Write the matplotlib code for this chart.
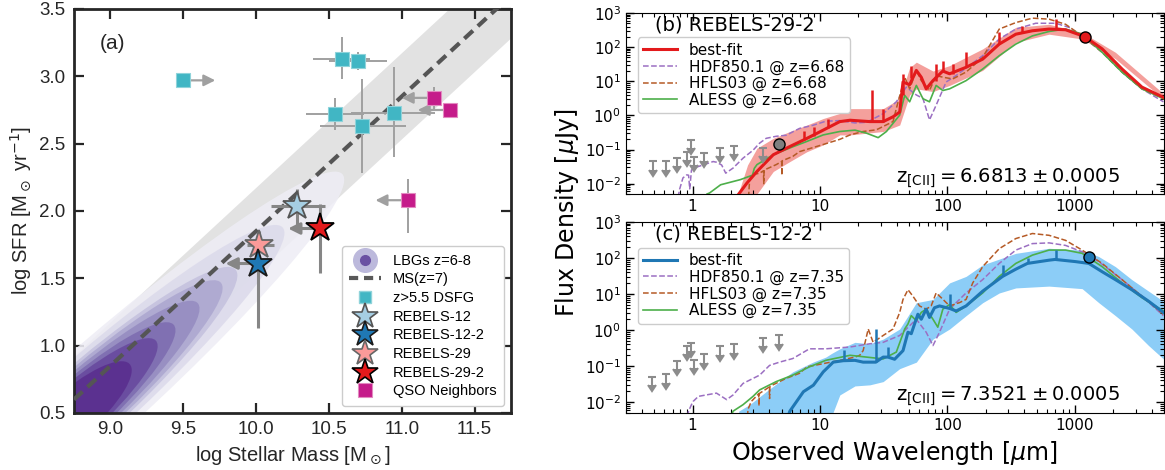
import numpy as np
import matplotlib.pyplot as plt
import matplotlib.ticker as ticker
from matplotlib.patches import Ellipse
from matplotlib.lines import Line2D

plt.rcParams['font.family'] = ['DejaVu Sans']
plt.rcParams['mathtext.fontset'] = 'dejavusans'

# ----------------- (a) SFR vs stellar mass data -----------------
ms_mass = [8.75, 11.75]
ms_sfr = [0.60, 3.60]
ms_scatter = 0.32

# LBG density contours (nested ellipses along the main sequence)
lbg_center = [8.72, 0.47]
lbg_angle = 44.0
lbg_semi_major = [2.60, 2.03, 1.58, 1.44, 1.22, 0.99, 0.82, 0.57]
lbg_semi_minor = [0.34, 0.30, 0.27, 0.25, 0.23, 0.21, 0.19, 0.17]
lbg_colors = ['#eeedf5', '#dcdaeb', '#c4c1de', '#aca7d0', '#958cc1', '#7d6cb0', '#68499e', '#5a2e8e']

dsfg_mass = [9.50, 10.59, 10.70, 10.54, 10.73, 10.95]
dsfg_sfr = [2.97, 3.13, 3.11, 2.72, 2.63, 2.73]
dsfg_mass_lo = [0.0, 0.20, 0.20, 0.20, 0.29, 0.30]
dsfg_mass_hi = [0.0, 0.19, 0.20, 0.20, 0.30, 0.28]
dsfg_sfr_lo = [0.0, 0.15, 0.06, 0.12, 0.35, 0.33]
dsfg_sfr_hi = [0.0, 0.16, 0.07, 0.12, 0.35, 0.34]
dsfg_mass_lowlim = [True, False, False, False, False, False]

qso_mass = [11.22, 11.33, 11.04]
qso_sfr = [2.84, 2.75, 2.08]
qso_sfr_lo = [0.09, 0.06, 0.24]
qso_sfr_hi = [0.08, 0.0, 0.16]

star_names = ['REBELS-12', 'REBELS-29', 'REBELS-12-2', 'REBELS-29-2']
star_mass = [10.28, 10.02, 10.01, 10.44]
star_sfr = [2.04, 1.75, 1.61, 1.87]
star_mass_lo = [0.18, 0.08, 0.0, 0.0]
star_mass_hi = [0.19, 0.10, 0.0, 0.0]
star_sfr_lo = [0.18, 0.0, 0.48, 0.33]
star_sfr_hi = [0.12, 0.10, 0.15, 0.18]
star_mass_uplim = [False, False, True, True]
star_face = {'REBELS-12': '#a6cee3', 'REBELS-12-2': '#1f78b4',
             'REBELS-29': '#fb9a99', 'REBELS-29-2': '#e31a1c'}
star_edge = {'REBELS-12': '#555555', 'REBELS-12-2': '#1a1a1a',
             'REBELS-29': '#666666', 'REBELS-29-2': '#000000'}

# ----------------- (b) REBELS-29-2 SED data (log10 flux in uJy) -----------------
b_fit_lam = [2.2, 2.67, 3.2, 4.3, 5.8, 7.9, 10.6, 14.3, 17.2, 24.6, 31.3, 37.4, 42.2, 44.8, 50.5, 57,
             62.3, 68.1, 77, 92, 104, 140, 189, 255, 344, 464, 627, 845, 1190, 1636, 2343, 3357, 4950]
b_fit_logf = [-2.4, -1.98, -1.64, -1.15, -0.91, -0.67, -0.43, -0.18, -0.14, -0.18, -0.18, -0.04, 0.1, 0.98,
              0.9, 1.32, 1.12, 0.78, 1.02, 1.30, 1.22, 1.41, 1.65, 2.09, 2.38, 2.48, 2.53, 2.51, 2.31,
              1.95, 1.36, 0.83, 0.53]
b_line_lam = [7.5, 9.0, 11.5, 25.4, 31.0, 44.8, 52, 81.5, 92, 110, 140, 255, 388, 707]
b_line_base = [-0.72, -0.6, -0.38, -0.18, -0.18, 0.6, 1.1, 1.0, 1.3, 1.22, 1.41, 2.09, 2.45, 2.53]
b_line_top = [-0.45, -0.35, -0.1, 0.74, 0.2, 1.2, 1.45, 1.5, 1.6, 1.5, 1.85, 2.43, 2.62, 2.82]
b_band_lam = [2.3, 2.7, 3.2, 4.3, 5.8, 7.9, 10.6, 14.3, 17.2, 31.3, 42.2, 50.5, 57, 77, 104, 189, 344,
              627, 1140, 2080, 4950]
b_band_lo = [-2.6, -2.6, -2.3, -1.64, -1.35, -1.06, -0.86, -0.57, -0.57, -0.47, -0.28, 0.6, 0.78, 0.7,
             0.88, 1.32, 2.14, 2.38, 2.24, 1.66, 0.48]
b_band_hi = [-2.25, -1.45, -0.96, -0.67, -0.47, -0.28, -0.09, 0.06, 0.2, 0.2, 0.49, 1.4, 1.56, 1.3,
             1.46, 1.95, 2.58, 2.67, 2.43, 1.85, 0.64]
b_hdf_lam = [0.77, 0.79, 0.84, 0.90, 0.93, 0.95, 0.98, 1.02, 1.21, 1.45, 1.54, 1.69, 1.82, 2.08, 2.49,
             2.98, 3.36, 3.78, 4.53, 5.42, 6.9, 8.77, 11.1, 14.3, 18.8, 23.2, 31.3, 39.7, 47.5, 57,
             64.2, 72.3, 81.5, 97.7, 117, 189, 255, 344, 493, 707, 898, 1140, 1636, 2343, 3357, 4950]
b_hdf_logf = [-2.4, -2.17, -1.83, -1.74, -1.75, -2.15, -1.6, -1.54, -1.45, -1.35, -1.37, -1.45, -1.69,
              -1.54, -1.25, -1.02, -0.81, -0.67, -0.61, -0.58, -0.38, -0.29, -0.17, -0.15, -0.22, -0.2,
              0.05, 0.4, 0.83, 0.6, 0.5, -0.13, 0.3, 0.98, 1.17, 1.75, 2.24, 2.53, 2.70, 2.70, 2.58,
              2.33, 1.85, 1.27, 0.78, 0.40]
b_hfls_lam = [2.75, 2.8, 2.9, 3.36, 3.6, 3.62, 3.64, 4.53, 5.0, 5.02, 5.04, 6.11, 6.9, 10.6, 14.3, 17.2,
              21.8, 27.7, 37.4, 39.7, 46.2, 50.5, 57, 62.3, 72.3, 81.5, 92, 110, 140, 189, 255, 344,
              464, 627, 845, 1140, 1636, 2343, 3357, 4950]
b_hfls_logf = [-2.4, -1.9, -1.74, -1.69, -1.62, -2.0, -1.6, -1.44, -1.35, -1.75, -1.33, -1.2, -1.06,
               -0.85, -0.7, -0.57, -0.47, -0.42, -0.18, 0.2, 1.12, 0.78, 1.32, 1.02, 0.73, 1.17, 1.12,
               1.07, 1.27, 1.70, 2.53, 2.72, 2.85, 2.82, 2.67, 2.33, 1.85, 1.27, 0.78, 0.49]
b_aless_lam = [1.30, 1.36, 1.66, 2.37, 2.95, 3.05, 3.2, 4.3, 6.19, 7.9, 10.6, 14.3, 18.8, 23.2, 28.6,
               33.2, 42.2, 46.2, 50.5, 57, 64.2, 72.3, 81.5, 92, 104, 140, 189, 255, 344, 464, 627,
               845, 1140, 1636, 2343, 3357, 4950]
b_aless_logf = [-2.3, -2.27, -2.03, -1.88, -1.75, -1.55, -1.44, -1.15, -0.91, -0.76, -0.57, -0.47,
                -0.43, -0.52, -0.65, -0.47, 0.01, 0.59, 0.4, 0.88, 0.49, 0.4, 0.88, 0.73, 0.78, 1.02,
                1.36, 1.75, 2.09, 2.33, 2.46, 2.53, 2.38, 1.85, 1.27, 0.78, 0.49]
b_lim_lam = [0.49, 0.62, 0.76, 0.90, 0.98, 1.02, 1.24, 1.65, 2.13, 3.59]
b_lim_flux = [0.045, 0.045, 0.056, 0.086, 0.195, 0.060, 0.078, 0.11, 0.127, 0.11]
b_opt_lam, b_opt_flux = [4.79], [0.144]
b_mm_lam, b_mm_flux = [1200], [205]
b_z_text = r'$\mathrm{z_{[CII]} = 6.6813 \pm 0.0005}$'

# ----------------- (c) REBELS-12-2 SED data (log10 flux in uJy) -----------------
c_fit_lam = [5.6, 5.8, 7.41, 8.87, 10.6, 12.7, 15.2, 18.8, 21.8, 27.4, 31.3, 34.2, 38.5, 44.8, 49, 52,
             58.6, 62.3, 68.1, 72.3, 79.1, 86.6, 104, 117, 140, 189, 271, 344, 424, 627, 700, 1012,
             1286, 1636, 2080, 2800, 3790, 4950]
c_fit_logf = [-2.4, -2.25, -1.71, -1.53, -1.16, -0.89, -0.85, -0.84, -0.89, -0.89, -0.75, -0.75, -0.81,
              -0.57, -0.06, -0.1, 0.44, 0.3, 0.58, 0.35, 0.62, 0.67, 0.6, 0.53, 0.67, 1.08, 1.49, 1.69,
              1.85, 1.94, 1.96, 1.90, 1.85, 1.62, 1.40, 1.12, 0.80, 0.49]
c_line_lam = [15.3, 27.5, 34.3, 104.5, 275, 430, 707]
c_line_base = [-0.85, -0.89, -0.75, 0.6, 1.5, 1.86, 1.96]
c_line_top = [-0.55, 0.03, -0.48, 0.99, 1.81, 1.99, 2.22]
c_band_lam = [2.3, 2.8, 4.0, 6.1, 8.8, 11.1, 12.3, 14.3, 18.8, 24.6, 31.3, 42.2, 57, 77, 104, 140, 189,
              255, 344, 627, 1140, 1540, 2080, 2800, 3790, 4950]
c_band_lo = [-2.6, -2.6, -2.6, -2.6, -2.6, -2.6, -2.4, -1.8, -1.55, -1.52, -1.43, -1.07, -0.89, -0.25,
             0.03, 0.40, 0.76, 1.03, 1.17, 1.22, 1.15, 0.76, 0.40, 0.03, -0.43, -0.80]
c_band_hi = [-2.25, -2.07, -1.64, -1.16, -0.89, -0.75, -0.65, -0.52, -0.34, -0.38, -0.25, 0.03, 0.76,
             0.85, 1.31, 1.49, 1.81, 1.97, 2.13, 2.27, 2.22, 2.04, 1.76, 1.40, 1.08, 0.80]
c_hdf_lam = [0.91, 0.93, 0.98, 1.01, 1.11, 1.28, 1.54, 1.85, 2.08, 2.49, 3.36, 4.02, 4.81, 6.11, 8.26,
             11.1, 17.2, 24.6, 31.3, 42.2, 57, 68.1, 77, 86.6, 104, 140, 189, 255, 344, 464, 627, 845,
             1140, 1540, 2343, 3357, 4950]
c_hdf_logf = [-2.4, -2.25, -2.07, -1.98, -1.84, -1.80, -1.75, -1.93, -1.80, -1.48, -1.25, -0.98, -0.89,
              -0.79, -0.52, -0.52, -0.47, -0.38, -0.34, -0.15, 0.30, -0.06, -0.43, -0.06, 0.58, 1.03,
              1.40, 1.85, 2.22, 2.40, 2.42, 2.35, 2.17, 1.90, 1.40, 0.94, 0.40]
c_hfls_lam = [2.7, 2.72, 2.89, 3.3, 3.32, 3.34, 4.0, 4.02, 4.04, 4.27, 5.42, 6.9, 7.9, 14.3, 18.8, 20.5,
              21.8, 23.9, 26.1, 31.3, 37.4, 42.2, 44.8, 49, 53.6, 60.4, 68.1, 74.5, 81.5, 89.3, 104,
              124, 140, 158, 189, 255, 344, 464, 627, 845, 1140, 1636, 2343, 3357, 4950]
c_hfls_logf = [-2.4, -2.2, -1.98, -1.77, -2.1, -1.76, -1.58, -1.9, -1.57, -1.52, -1.34, -1.20, -1.02,
               -0.84, -0.75, -0.70, -0.57, 0.03, -0.34, -0.15, 0.03, 0.49, 0.85, 1.12, 0.94, 0.67,
               0.58, 0.67, 1.03, 0.90, 0.67, 0.76, 0.85, 1.31, 1.76, 2.26, 2.54, 2.68, 2.63, 2.49,
               2.22, 1.85, 1.40, 0.94, 0.44]
c_aless_lam = [2.0, 2.08, 2.49, 2.98, 3.36, 4.53, 6.11, 8.26, 11.1, 17.2, 23.2, 31.3, 39.7, 46.2, 49,
               52, 57, 62.3, 68.1, 77, 84, 92, 104, 117, 140, 189, 255, 344, 464, 627, 845, 1140,
               1636, 2343, 3357, 4950]
c_aless_logf = [-2.4, -2.25, -2.07, -1.84, -1.66, -1.43, -1.25, -1.02, -0.84, -0.70, -0.75, -0.80,
                -0.61, 0.03, 0.17, 0.40, 0.26, 0.49, 0.58, 0.30, 0.08, 0.58, 0.71, 0.49, 0.67, 1.03,
                1.49, 1.85, 2.08, 2.22, 2.22, 2.13, 1.76, 1.31, 0.90, 0.53]
c_lim_lam = [0.48, 0.62, 0.76, 0.90, 0.98, 1.02, 1.24, 1.65, 2.13, 3.59, 4.79]
c_lim_flux = [0.051, 0.059, 0.14, 0.37, 0.45, 0.15, 0.21, 0.36, 0.41, 0.62, 0.72]
c_mm_lam, c_mm_flux = [1290], [110]
c_z_text = r'$\mathrm{z_{[CII]} = 7.3521 \pm 0.0005}$'

# ----------------- Figure -----------------
fig = plt.figure(figsize=(11.65, 4.7), dpi=100)
ax_a = fig.add_axes([0.0635, 0.1213, 0.3751, 0.8596])
ax_b = fig.add_axes([0.5373, 0.5872, 0.4618, 0.3851])
ax_c = fig.add_axes([0.5373, 0.1213, 0.4618, 0.4064])

ARIAL = 'Liberation Sans'
ERR_GRAY = '#a0a0a0'
LIM_GRAY = '#8c8c8c'
ARROW_LEN = 0.22


def mass_arrow(ax, x, y, direction, color, lw, z):
    ax.annotate('', xy=(x + direction * ARROW_LEN, y), xytext=(x, y),
                arrowprops=dict(arrowstyle='-|>', color=color, lw=lw, mutation_scale=17,
                                shrinkA=0, shrinkB=0), zorder=z)


# --- panel (a) ---
ms_x = np.array(ms_mass)
ms_y = np.array(ms_sfr)
ax_a.fill_between(ms_x, ms_y - ms_scatter, ms_y + ms_scatter, color='#e2e2e2', lw=0, zorder=1)
for a, b, col in zip(lbg_semi_major, lbg_semi_minor, lbg_colors):
    ax_a.add_patch(Ellipse(lbg_center, 2 * a, 2 * b, angle=lbg_angle, facecolor=col,
                           edgecolor='none', alpha=0.88, zorder=2))
ax_a.plot(ms_x, ms_y, color='#555555', lw=3, dashes=(2.8, 1.6), zorder=3)

# DSFGs
ax_a.errorbar(dsfg_mass, dsfg_sfr, xerr=[dsfg_mass_lo, dsfg_mass_hi], yerr=[dsfg_sfr_lo, dsfg_sfr_hi],
              fmt='none', ecolor=ERR_GRAY, elinewidth=1.4, zorder=4)
for m, s, lim in zip(dsfg_mass, dsfg_sfr, dsfg_mass_lowlim):
    if lim:
        mass_arrow(ax_a, m, s, +1, ERR_GRAY, 1.6, 4)
ax_a.plot(dsfg_mass, dsfg_sfr, 's', ms=10, color='#41b6c4', mec='#8fd3da', mew=0.8, zorder=5)

# QSO neighbours
qso_eb = ax_a.errorbar(qso_mass, qso_sfr, yerr=[qso_sfr_lo, qso_sfr_hi], fmt='s', ms=10,
                       color='#c51b8a', mec='#e28ac0', mew=0.8, ecolor=ERR_GRAY, elinewidth=1.4,
                       zorder=5)
for m, s in zip(qso_mass, qso_sfr):
    mass_arrow(ax_a, m, s, -1, ERR_GRAY, 1.6, 4)

# REBELS stars
for i, name in enumerate(star_names):
    ax_a.errorbar([star_mass[i]], [star_sfr[i]],
                  xerr=[[star_mass_lo[i]], [star_mass_hi[i]]],
                  yerr=[[star_sfr_lo[i]], [star_sfr_hi[i]]],
                  fmt='none', ecolor='#868686', elinewidth=2.2, zorder=4)
    if star_mass_uplim[i]:
        mass_arrow(ax_a, star_mass[i], star_sfr[i], -1, '#868686', 2.2, 4)
for i, name in enumerate(star_names):
    ax_a.plot(star_mass[i], star_sfr[i], '*', ms=21, mfc=star_face[name], mec=star_edge[name],
              mew=1.3, zorder=6 + i)

ax_a.set_xlim(8.75, 11.75)
ax_a.set_ylim(0.5, 3.5)
ax_a.set_xticks([9.0, 9.5, 10.0, 10.5, 11.0, 11.5])
ax_a.set_yticks([0.5, 1.0, 1.5, 2.0, 2.5, 3.0, 3.5])
ax_a.xaxis.set_major_formatter(ticker.FormatStrFormatter('%.1f'))
ax_a.yaxis.set_major_formatter(ticker.FormatStrFormatter('%.1f'))
ax_a.tick_params(direction='in', top=True, right=True, length=7, width=1.6, labelsize=13.5,
                 labelfontfamily=ARIAL, pad=6, colors='#262626')
for sp in ax_a.spines.values():
    sp.set_linewidth(2)
    sp.set_color('#262626')
ax_a.set_xlabel(r'log Stellar Mass [M$_\odot$]', fontsize=14.5, family=ARIAL, color='#262626')
ax_a.set_ylabel(r'log SFR [M$_\odot$ yr$^{-1}$]', fontsize=14.5, family=ARIAL, color='#262626')
ax_a.text(0.06, 0.915, '(a)', transform=ax_a.transAxes, fontsize=15, family=ARIAL,
          ha='left', va='center', color='#262626')

lbg_handle = (Line2D([], [], marker='o', ms=17, ls='none', color='#bcb9dc'),
              Line2D([], [], marker='o', ms=7, ls='none', color='#6a51a3'))
handles_a = [lbg_handle,
             Line2D([], [], color='#595959', lw=3, dashes=(2.2, 1.4)),
             Line2D([], [], marker='s', ms=9, ls='none', color='#41b6c4', mec='#8fd3da')]
labels_a = ['LBGs z=6-8', 'MS(z=7)', 'z>5.5 DSFG']
for name in ['REBELS-12', 'REBELS-12-2', 'REBELS-29', 'REBELS-29-2']:
    handles_a.append(Line2D([], [], marker='*', ms=19, ls='none', mfc=star_face[name],
                            mec=star_edge[name], mew=1.2))
    labels_a.append(name)
handles_a.append(qso_eb)
labels_a.append('QSO Neighbors')
ax_a.legend(handles_a, labels_a, loc='lower right', prop={'family': ARIAL, 'size': 10.5},
            labelspacing=0.32, handlelength=2.2, borderpad=0.5, borderaxespad=0.5,
            frameon=True, edgecolor='#cccccc', fancybox=True, framealpha=1)


# --- panels (b) and (c) ---
def sed_panel(ax, title, fit_col, band_col, fit_lam, fit_logf, line_lam, line_base, line_top,
              band_lam, band_lo, band_hi, hdf, hfls, aless, zlab, lim_lam, lim_flux):
    ax.fill_between(band_lam, 10 ** np.array(band_lo), 10 ** np.array(band_hi), color=band_col,
                    lw=0, zorder=1)
    h_hdf, = ax.plot(hdf[0], 10 ** np.array(hdf[1]), '--', color='#9b6fc2', lw=1.1, zorder=2)
    h_hfls, = ax.plot(hfls[0], 10 ** np.array(hfls[1]), '--', color='#b55a26', lw=1.1, zorder=2)
    h_aless, = ax.plot(aless[0], 10 ** np.array(aless[1]), '-', color='#4daf4a', lw=1.2, zorder=2)
    h_fit, = ax.plot(fit_lam, 10 ** np.array(fit_logf), '-', color=fit_col, lw=2.2, zorder=3)
    ax.vlines(line_lam, 10 ** np.array(line_base), 10 ** np.array(line_top), color=fit_col,
              lw=1.8, zorder=3)
    ax.errorbar(lim_lam, lim_flux, yerr=0.42 * np.array(lim_flux), uplims=True, fmt='none',
                color=LIM_GRAY, ecolor=LIM_GRAY, elinewidth=1.5, capsize=3, capthick=1.5,
                zorder=4)
    ax.set_xscale('log')
    ax.set_yscale('log')
    ax.set_xlim(0.3, 5000)
    ax.set_ylim(5e-3, 1e3)
    ax.xaxis.set_major_formatter(ticker.FuncFormatter(lambda v, p: f'{v:g}'))
    ax.yaxis.set_major_locator(ticker.LogLocator(base=10, numticks=12))
    ax.yaxis.set_minor_locator(ticker.LogLocator(base=10, subs=np.arange(2, 10), numticks=12))
    ax.yaxis.set_minor_formatter(ticker.NullFormatter())
    ax.tick_params(which='both', direction='in', top=True, right=True, labelsize=11)
    ax.tick_params(which='major', length=6, width=1)
    ax.tick_params(which='minor', length=3, width=0.8)
    ax.text(0.054, 0.935, title, transform=ax.transAxes, fontsize=14, ha='left', va='center')
    ax.text(0.71, 0.085, zlab, transform=ax.transAxes, fontsize=14, ha='center', va='center')
    ax.legend([h_fit, h_hdf, h_hfls, h_aless],
              ['best-fit', hdf[2], hfls[2], aless[2]],
              loc='upper left', bbox_to_anchor=(0.022, 0.865), borderaxespad=0,
              fontsize=11, labelspacing=0.1, handlelength=2.2, borderpad=0.35,
              framealpha=1, edgecolor='#cccccc')


sed_panel(ax_b, '(b) REBELS-29-2', '#e31a1c', '#f4a09c', b_fit_lam, b_fit_logf,
          b_line_lam, b_line_base, b_line_top, b_band_lam, b_band_lo, b_band_hi,
          (b_hdf_lam, b_hdf_logf, 'HDF850.1 @ z=6.68'), (b_hfls_lam, b_hfls_logf, 'HFLS03 @ z=6.68'),
          (b_aless_lam, b_aless_logf, 'ALESS @ z=6.68'), b_z_text, b_lim_lam, b_lim_flux)
ax_b.plot(b_opt_lam, b_opt_flux, 'o', ms=8, color='#7f7f7f', mec='k', mew=1, zorder=6)
ax_b.plot(b_mm_lam, b_mm_flux, 'o', ms=8, color='#e31a1c', mec='k', mew=1, zorder=6)

sed_panel(ax_c, '(c) REBELS-12-2', '#1f77b4', '#8ccdf7', c_fit_lam, c_fit_logf,
          c_line_lam, c_line_base, c_line_top, c_band_lam, c_band_lo, c_band_hi,
          (c_hdf_lam, c_hdf_logf, 'HDF850.1 @ z=7.35'), (c_hfls_lam, c_hfls_logf, 'HFLS03 @ z=7.35'),
          (c_aless_lam, c_aless_logf, 'ALESS @ z=7.35'), c_z_text, c_lim_lam, c_lim_flux)
ax_c.plot(c_mm_lam, c_mm_flux, 'o', ms=8, color='#1f77b4', mec='k', mew=1, zorder=6)

fig.text(0.487, 0.547, r'Flux Density [$\mu$Jy]', rotation=90, fontsize=17, ha='center', va='center')
fig.text(0.768, 0.036, r'Observed Wavelength [$\mu$m]', fontsize=17, ha='center', va='center')

fig.savefig('out.png', dpi=100)
